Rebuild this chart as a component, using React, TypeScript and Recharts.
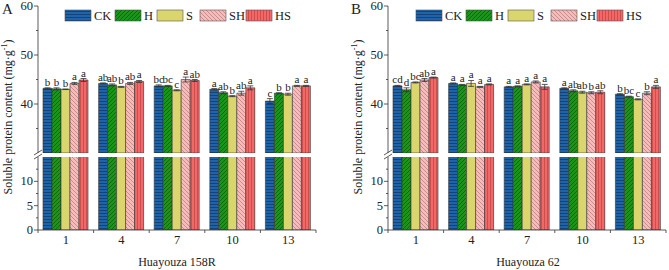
import React from 'react';
import { BarChart, Bar, XAxis, YAxis, ErrorBar, LabelList } from 'recharts';

const FONT = "'Liberation Serif', 'Times New Roman', serif";

const days = ['1', '4', '7', '10', '13'];
const treatments = ['CK', 'H', 'S', 'SH', 'HS'];

// Huayouza 158R
const ck158 = [43.2, 44.2, 43.7, 43.0, 40.6];
const h158 = [43.1, 43.9, 43.7, 42.3, 42.2];
const s158 = [43.0, 43.5, 42.8, 41.6, 42.0];
const sh158 = [44.2, 44.2, 45.0, 42.2, 43.7];
const hs158 = [44.9, 44.6, 44.8, 43.3, 43.7];
const ck158Err = [0.1, 0.1, 0.2, 0.15, 0.5];
const h158Err = [0.2, 0.2, 0.1, 0.2, 0.1];
const s158Err = [0.05, 0.1, 0.1, 0.1, 0.2];
const sh158Err = [0.2, 0.2, 0.5, 0.4, 0.1];
const hs158Err = [0.3, 0.2, 0.2, 0.4, 0.1];
const ck158Sig = ['b', 'ab', 'bc', 'a', 'c'];
const h158Sig = ['b', 'ab', 'bc', 'ab', 'b'];
const s158Sig = ['b', 'b', 'c', 'b', 'b'];
const sh158Sig = ['a', 'ab', 'a', 'ab', 'a'];
const hs158Sig = ['a', 'a', 'ab', 'a', 'a'];

// Huayouza 62
const ck62 = [43.7, 44.2, 43.5, 43.2, 42.0];
const h62 = [42.9, 43.9, 43.6, 42.7, 41.5];
const s62 = [44.4, 44.2, 44.0, 42.4, 40.95];
const sh62 = [44.9, 43.5, 44.5, 42.3, 42.2];
const hs62 = [45.4, 44.0, 43.5, 42.4, 43.5];
const ck62Err = [0.1, 0.1, 0.1, 0.1, 0.1];
const h62Err = [0.4, 0.1, 0.1, 0.2, 0.1];
const s62Err = [0.1, 0.6, 0.1, 0.2, 0.1];
const sh62Err = [0.3, 0.1, 0.2, 0.2, 0.3];
const hs62Err = [0.1, 0.1, 0.5, 0.3, 0.3];
const ck62Sig = ['cd', 'a', 'a', 'a', 'b'];
const h62Sig = ['d', 'a', 'a', 'ab', 'bc'];
const s62Sig = ['bc', 'a', 'a', 'ab', 'c'];
const sh62Sig = ['ab', 'a', 'a', 'b', 'b'];
const hs62Sig = ['a', 'a', 'a', 'ab', 'a'];

const upperTicks = [35, 40, 45, 50, 55, 60];
const upperMajor = [40, 50, 60];
const lowerTicks = [0, 2.5, 5, 7.5, 10, 12.5];
const lowerMajor = [0, 5, 10];

function buildRows(vals: number[][], errs: number[][], sigs: string[][]) {
  return days.map((day, i) => {
    const row: any = { day };
    treatments.forEach((t, k) => {
      row[t] = vals[k][i];
      row[`${t}_err`] = errs[k][i];
      row[`${t}_sig`] = sigs[k][i];
    });
    return row;
  });
}

const rows158 = buildRows(
  [ck158, h158, s158, sh158, hs158],
  [ck158Err, h158Err, s158Err, sh158Err, hs158Err],
  [ck158Sig, h158Sig, s158Sig, sh158Sig, hs158Sig]
);
const rows62 = buildRows(
  [ck62, h62, s62, sh62, hs62],
  [ck62Err, h62Err, s62Err, sh62Err, hs62Err],
  [ck62Sig, h62Sig, s62Sig, sh62Sig, hs62Sig]
);

// upper part of the broken axis (30-60) and lower part (0-15)
const UPPER_H = 153;
const UPPER_TOP = 6;
const LOWER_TOP = 157;
const LOWER_H = 113;
const AXIS = '#333';

const YTick = (props: any) => {
  const { x, y, payload, majors } = props;
  const major = majors.includes(payload.value);
  return (
    <g>
      <line x1={x - (major ? 4 : 2)} y1={y} x2={x} y2={y} stroke={AXIS} strokeWidth={0.8} />
      {major && (
        <text x={x - 5} y={y} dy={4} textAnchor="end" fontSize={12.5} fontFamily={FONT} fill="#222">
          {payload.value}
        </text>
      )}
    </g>
  );
};

const XTick = (props: any) => {
  const { x, y, payload, index, band } = props;
  const last = index === days.length - 1;
  return (
    <g>
      <line x1={x - band / 2} y1={y} x2={x - band / 2} y2={y + 3} stroke={AXIS} strokeWidth={0.8} />
      {last && <line x1={x + band / 2} y1={y} x2={x + band / 2} y2={y + 3} stroke={AXIS} strokeWidth={0.8} />}
      <text x={x} y={y + 14} textAnchor="middle" fontSize={12.5} fontFamily={FONT} fill="#222">
        {payload.value}
      </text>
    </g>
  );
};

function Panel({ left, width, axisX, rightPad, rows }: any) {
  const plotW = width - axisX - rightPad;
  const band = plotW / days.length;
  const pxPerUnit = (UPPER_H - UPPER_TOP) / 30;
  return (
    <>
      <div style={{ position: 'absolute', left, top: 0 }}>
        <BarChart
          width={width}
          height={UPPER_H}
          data={rows}
          margin={{ top: UPPER_TOP, right: rightPad, left: 0, bottom: 0 }}
          barCategoryGap="9%"
          barGap={0}
        >
          <XAxis dataKey="day" hide />
          <YAxis
            width={axisX}
            domain={[30, 60]}
            ticks={upperTicks}
            allowDataOverflow
            interval={0}
            tickLine={false}
            tickSize={0}
            tickMargin={0}
            axisLine={{ stroke: AXIS, strokeWidth: 0.8 }}
            tick={(p: any) => <YTick {...p} majors={upperMajor} />}
          />
          {treatments.map((t) => (
            <Bar key={t} dataKey={t} fill={`url(#pat-${t})`} stroke="#333" strokeWidth={0.6} isAnimationActive={false}>
              <ErrorBar dataKey={`${t}_err`} width={3} stroke="#333" strokeWidth={0.8} />
              <LabelList
                dataKey={`${t}_sig`}
                content={(p: any) => {
                  const vb = p.viewBox || p;
                  const idx = p.index ?? 0;
                  const err = rows[idx] ? rows[idx][`${t}_err`] : 0;
                  return (
                    <text
                      x={vb.x + vb.width / 2}
                      y={vb.y - err * pxPerUnit - 2}
                      textAnchor="middle"
                      fontSize={11}
                      fontFamily={FONT}
                      fill="#222"
                    >
                      {p.value}
                    </text>
                  );
                }}
              />
            </Bar>
          ))}
        </BarChart>
      </div>
      <div style={{ position: 'absolute', left, top: LOWER_TOP }}>
        <BarChart
          width={width}
          height={LOWER_H}
          data={rows}
          margin={{ top: 0, right: rightPad, left: 0, bottom: 0 }}
          barCategoryGap="9%"
          barGap={0}
        >
          <XAxis
            dataKey="day"
            height={40}
            interval={0}
            tickLine={false}
            tickSize={0}
            tickMargin={0}
            axisLine={{ stroke: AXIS, strokeWidth: 0.8 }}
            tick={(p: any) => <XTick {...p} band={band} />}
          />
          <YAxis
            width={axisX}
            domain={[0, 15]}
            ticks={lowerTicks}
            allowDataOverflow
            interval={0}
            tickLine={false}
            tickSize={0}
            tickMargin={0}
            axisLine={{ stroke: AXIS, strokeWidth: 0.8 }}
            tick={(p: any) => <YTick {...p} majors={lowerMajor} />}
          />
          {treatments.map((t) => (
            <Bar key={t} dataKey={t} fill={`url(#pat-${t})`} stroke="#333" strokeWidth={0.6} isAnimationActive={false} />
          ))}
        </BarChart>
      </div>
    </>
  );
}

const legendOffsets = [0, 50, 92, 135, 181];

function Overlay() {
  const yLabel = (cx: number) => (
    <text
      transform={`translate(${cx},117) rotate(-90)`}
      textAnchor="middle"
      fontSize={12}
      fontFamily={FONT}
      fill="#222"
    >
      Soluble protein content (mg·g
      <tspan fontSize={8} dy={-5}>-1</tspan>
      <tspan dy={5}>)</tspan>
    </text>
  );
  const legend = (x0: number) =>
    treatments.map((t, i) => (
      <g key={t}>
        <rect x={x0 + legendOffsets[i]} y={10} width={26} height={11} fill={`url(#pat-${t})`} stroke="#555" strokeWidth={0.6} />
        <text x={x0 + legendOffsets[i] + 29} y={20} fontSize={12.5} fontFamily={FONT} fill="#222">
          {t}
        </text>
      </g>
    ));
  const breakMark = (ax: number) => (
    <g stroke={AXIS} strokeWidth={0.8}>
      <line x1={ax - 4} y1={155} x2={ax + 4} y2={150} />
      <line x1={ax - 4} y1={159} x2={ax + 4} y2={154} />
    </g>
  );
  return (
    <svg width={669} height={270} style={{ position: 'absolute', left: 0, top: 0, pointerEvents: 'none' }}>
      <defs>
        <pattern id="pat-CK" patternUnits="userSpaceOnUse" width={3} height={3}>
          <rect width={3} height={3} fill="#1f63a9" />
          <line x1={0} y1={2.5} x2={3} y2={2.5} stroke="#0e3561" strokeWidth={0.7} />
        </pattern>
        <pattern id="pat-H" patternUnits="userSpaceOnUse" width={4} height={4}>
          <rect width={4} height={4} fill="#1a951a" />
          <path d="M0,4 L4,0 M-1,1 L1,-1 M3,5 L5,3" stroke="#0a560a" strokeWidth={0.7} />
        </pattern>
        <pattern id="pat-S" patternUnits="userSpaceOnUse" width={4} height={4}>
          <rect width={4} height={4} fill="#dad56d" />
        </pattern>
        <pattern id="pat-SH" patternUnits="userSpaceOnUse" width={4} height={4}>
          <rect width={4} height={4} fill="#f6bcbc" />
          <path d="M0,0 L4,4 M-1,3 L1,5 M3,-1 L5,1" stroke="#b26a6a" strokeWidth={0.6} />
        </pattern>
        <pattern id="pat-HS" patternUnits="userSpaceOnUse" width={3} height={3}>
          <rect width={3} height={3} fill="#f26868" />
          <line x1={2.5} y1={0} x2={2.5} y2={3} stroke="#b53a3a" strokeWidth={0.6} />
        </pattern>
      </defs>
      <text x={2} y={14} fontSize={15} fontFamily={FONT} fill="#222">A</text>
      <text x={351} y={14} fontSize={15} fontFamily={FONT} fill="#222">B</text>
      {yLabel(12)}
      {yLabel(362)}
      {legend(65)}
      {legend(416)}
      {breakMark(38)}
      {breakMark(388)}
      <text x={177} y={266} textAnchor="middle" fontSize={12} fontFamily={FONT} fill="#222">Huayouza 158R</text>
      <text x={528} y={266} textAnchor="middle" fontSize={12} fontFamily={FONT} fill="#222">Huayouza 62</text>
    </svg>
  );
}

export default function App() {
  return (
    <div style={{ position: 'absolute', left: 0, top: 0, width: 669, height: 270, background: '#fff', fontFamily: FONT }}>
      <Panel left={0} width={335} axisX={38} rightPad={19} rows={rows158} />
      <Panel left={335} width={334} axisX={53} rightPad={3} rows={rows62} />
      <Overlay />
    </div>
  );
}
